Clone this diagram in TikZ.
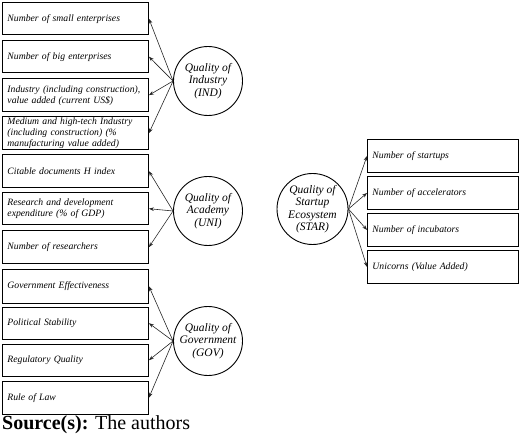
\documentclass[tikz,border=0pt]{standalone}
\usepackage{fontspec}
\setmainfont{Liberation Serif}
\usetikzlibrary{arrows.meta}
\newcommand\nohyph{\hyphenpenalty=10000\relax\exhyphenpenalty=10000\relax}
\begin{document}
\begin{tikzpicture}[x=1bp,y=-1bp,
  box/.style={draw=black,line width=0.9bp,anchor=north west,minimum width=146bp,minimum height=32.5bp,
    text width=136bp,align=left,inner xsep=5bp,inner ysep=0bp,
    font=\fontsize{9.7bp}{11bp}\selectfont\itshape\nohyph},
  rbox/.style={box,minimum width=151bp,minimum height=33bp,text width=141bp},
  circ/.style={draw=black,circle,line width=0.9bp,minimum size=69bp,inner sep=0bp,align=center,
    font=\fontsize{11.5bp}{12.5bp}\selectfont\itshape},
  arr/.style={-{Stealth[length=5bp,width=3.6bp]},line width=0.6bp,draw=black!85}]
\useasboundingbox (0,0) rectangle (520,434);
% left boxes
\node[box] (b1) at (2,2) {Number of small enterprises};
\node[box] (b2) at (2,40) {Number of big enterprises};
\node[box] (b3) at (2,78.5) {Industry (including construction), value added (current US\$)};
\node[box] (b4) at (2,116.5) {Medium and high-tech Industry (including construction) (\% manufacturing value added)};
\node[box] (b5) at (2,154.5) {Citable documents H index};
\node[box] (b6) at (2,192) {Research and development expenditure (\% of GDP)};
\node[box] (b7) at (2,230.5) {Number of researchers};
\node[box,minimum height=33.5bp] (b8) at (2,269) {Government Effectiveness};
\node[box] (b9) at (2,306.5) {Political Stability};
\node[box] (b10) at (2,343.5) {Regulatory Quality};
\node[box] (b11) at (2,381) {Rule of Law};
% right boxes
\node[rbox] (r1) at (367,139) {Number of startups};
\node[rbox] (r2) at (367,176) {Number of accelerators};
\node[rbox] (r3) at (367,213) {Number of incubators};
\node[rbox] (r4) at (367,250) {Unicorns (Value Added)};
% circles
\node[circ] (ind) at (208,81) {Quality of\\Industry\\(IND)};
\node[circ] (uni) at (208,211) {Quality of\\Academy\\(UNI)};
\node[circ] (gov) at (208,341) {Quality of\\Government\\(GOV)};
\node[circ,minimum size=71bp] (star) at (312.5,209) {Quality of\\Startup\\Ecosystem\\(STAR)};
% arrows
\foreach \b in {b1,b2,b3,b4} \draw[arr] (ind.west) -- (\b.east);
\foreach \b in {b5,b6,b7} \draw[arr] (uni.west) -- (\b.east);
\foreach \b in {b8,b9,b10,b11} \draw[arr] (gov.west) -- (\b.east);
\foreach \b in {r1,r2,r3,r4} \draw[arr] (star.east) -- (\b.west);
% source
\node[anchor=base west,inner sep=0bp,font=\fontsize{20bp}{22bp}\selectfont] (src) at (2,429) {\textbf{Source(s):} The authors};
\end{tikzpicture}
\end{document}
